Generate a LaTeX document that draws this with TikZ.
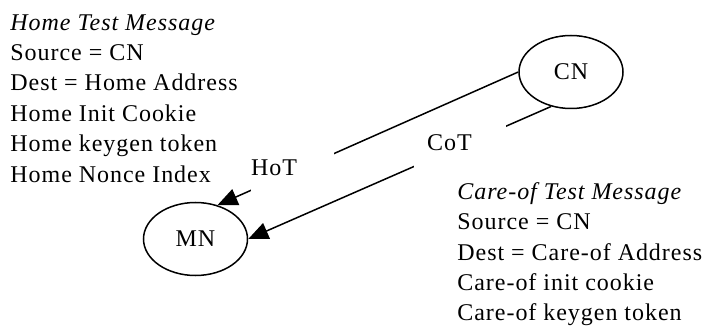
\documentclass[tikz,border=0pt]{standalone}
\usepackage{fontspec}
\setmainfont{Liberation Serif}[LetterSpace=4]
\usetikzlibrary{positioning, arrows.meta, shapes.geometric}

\begin{document}
\begin{tikzpicture}
    [
        x=0.5pt, y=-0.5pt, on grid,
        >={Triangle[length=10pt, width=8.5pt]},
        node_ellipse/.style={ellipse, draw=black, line width=0.75pt, minimum width=52pt, minimum height=36.5pt, font=\fontsize{12}{15.2}\selectfont},
        msg_text/.style={anchor=north west, align=left, inner sep=0pt, font=\fontsize{12}{15.2}\selectfont},
        gap_label/.style={fill=white, inner ysep=0pt, text height=13pt, text depth=9pt, align=left, font=\fontsize{12}{15.2}\selectfont},
    ]
        \useasboundingbox (0,0) rectangle (707,326) ;
        \node[node_ellipse] (CN) at (571,72) {CN} ;
        \node[node_ellipse] (MN) [below left = 83.5pt and 187.75pt of CN] {MN} ;
        \node[msg_text] (home_msg) at (10,14) {\textit{Home Test Message}\\ Source = CN\\ Dest = Home Address\\ Home Init Cookie\\ Home keygen token\\ Home Nonce Index} ;
        \node[msg_text] (careof_msg) at (457,182) {\textit{Care-of Test Message}\\ Source = CN\\ Dest = Care-of Address\\ Care-of init cookie\\ Care-of keygen token} ;
        \draw[->, line width=0.75pt] (CN.west) -- node[gap_label, pos=0.75, text width=41.5pt, inner xsep=0pt] (hot_label) {HoT} (MN.57) ;
        \draw[->, line width=0.75pt] (CN.240) -- node[gap_label, pos=0.3, text width=33pt, inner xsep=6.5pt] (cot_label) {CoT} (MN.east) ;
    \end{tikzpicture}
\end{document}
